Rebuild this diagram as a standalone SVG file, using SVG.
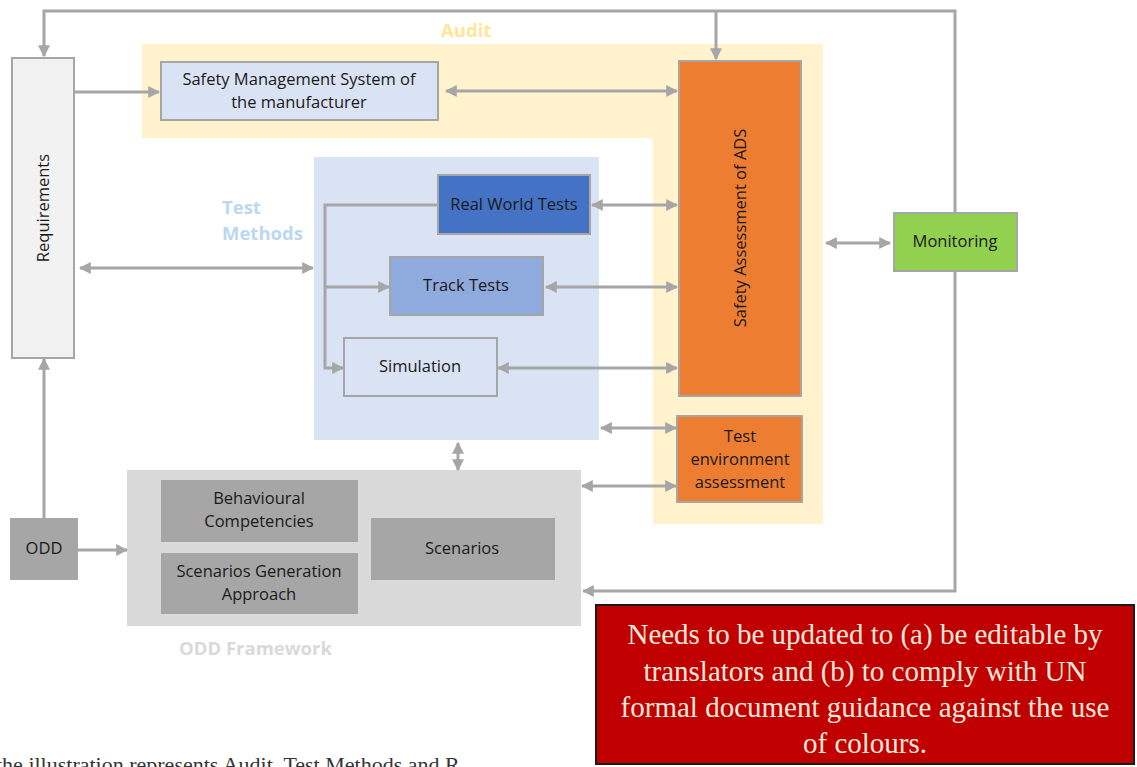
<svg xmlns="http://www.w3.org/2000/svg" width="1137" height="767" viewBox="0 0 1137 767">
  <style>
    .lbl { font-family: "Open Sans", "Liberation Sans", sans-serif; font-size: 16.5px; fill: #1a1a1a; text-anchor: middle; }
    .grp { font-family: "Open Sans", "Liberation Sans", sans-serif; font-size: 18.5px; font-weight: bold; }
    .box { stroke: #a6a6a6; stroke-width: 2; }
    .conn { fill: none; stroke: #a6a6a6; stroke-width: 3; }
    .note { font-family: "Liberation Serif", serif; font-size: 29px; fill: #fde9d9; text-anchor: middle; }
  </style>
  <defs>
    <marker id="arr" viewBox="0 0 10 10" refX="9" refY="5" markerWidth="12" markerHeight="12" markerUnits="userSpaceOnUse" orient="auto-start-reverse">
      <path d="M0,0 L10,5 L0,10 z" fill="#a6a6a6"/>
    </marker>
  </defs>
  <rect width="1137" height="767" fill="#ffffff"/>

  <!-- group backgrounds -->
  <g id="audit-area">
    <path d="M142,44 H823 V524 H653 V138 H142 z" fill="#fff2cc"/>
    <text class="grp" x="441" y="37" fill="#ffe699">Audit</text>
  </g>
  <g id="test-methods-area">
    <rect x="314" y="157" width="285" height="283" fill="#dae3f3"/>
    <text class="grp" x="222" y="214" fill="#bdd7ee">Test</text>
    <text class="grp" x="222" y="240" fill="#bdd7ee">Methods</text>
  </g>
  <g id="odd-framework-area">
    <rect x="127" y="470" width="454" height="156" fill="#d9d9d9"/>
    <text class="grp" x="179" y="655" fill="#d9d9d9">ODD Framework</text>
  </g>

  <!-- connectors -->
  <g id="connectors">
    <path class="conn" d="M955,212 V11 H44 V56" marker-end="url(#arr)"/>
    <path class="conn" d="M716,11 V59" marker-end="url(#arr)"/>
    <path class="conn" d="M955,271 V591 H583" marker-end="url(#arr)"/>
    <path class="conn" d="M75,92 H159" marker-end="url(#arr)"/>
    <path class="conn" d="M446,91 H677" marker-start="url(#arr)" marker-end="url(#arr)"/>
    <path class="conn" d="M80,268 H313" marker-start="url(#arr)" marker-end="url(#arr)"/>
    <path class="conn" d="M437,205 H325 V368 H343" marker-end="url(#arr)"/>
    <path class="conn" d="M325,287 H389" marker-end="url(#arr)"/>
    <path class="conn" d="M592,205 H677" marker-start="url(#arr)" marker-end="url(#arr)"/>
    <path class="conn" d="M546,287 H677" marker-start="url(#arr)" marker-end="url(#arr)"/>
    <path class="conn" d="M498,368 H677" marker-start="url(#arr)" marker-end="url(#arr)"/>
    <path class="conn" d="M601,428 H676" marker-start="url(#arr)" marker-end="url(#arr)"/>
    <path class="conn" d="M582,486 H676" marker-start="url(#arr)" marker-end="url(#arr)"/>
    <path class="conn" d="M826,243 H890" marker-start="url(#arr)" marker-end="url(#arr)"/>
    <path class="conn" d="M458,443 V470" marker-start="url(#arr)" marker-end="url(#arr)"/>
    <path class="conn" d="M44,518 V359" marker-end="url(#arr)"/>
    <path class="conn" d="M78,550 H127" marker-end="url(#arr)"/>
  </g>

  <!-- nodes -->
  <g id="requirements">
    <rect class="box" x="12" y="58" width="62" height="300" fill="#f2f2f2"/>
    <text class="lbl" transform="translate(49,208) rotate(-90)">Requirements</text>
  </g>
  <g id="sms">
    <rect class="box" x="161" y="62" width="277" height="58" fill="#dae3f3"/>
    <text class="lbl" x="299" y="85">Safety Management System of</text>
    <text class="lbl" x="299" y="108">the manufacturer</text>
  </g>
  <g id="safety-assessment">
    <rect class="box" x="679" y="61" width="122" height="335" fill="#ed7d31"/>
    <text class="lbl" transform="translate(746,228) rotate(-90)">Safety Assessment of ADS</text>
  </g>
  <g id="test-environment">
    <rect class="box" x="677" y="416" width="125" height="86" fill="#ed7d31"/>
    <text class="lbl" x="740" y="442">Test</text>
    <text class="lbl" x="740" y="465">environment</text>
    <text class="lbl" x="740" y="488">assessment</text>
  </g>
  <g id="monitoring">
    <rect class="box" x="894" y="213" width="123" height="58" fill="#92d050"/>
    <text class="lbl" x="955" y="247">Monitoring</text>
  </g>
  <g id="real-world-tests">
    <rect class="box" x="438" y="175" width="152" height="59" fill="#4472c4"/>
    <text class="lbl" x="514" y="210">Real World Tests</text>
  </g>
  <g id="track-tests">
    <rect class="box" x="390" y="257" width="153" height="58" fill="#8faadc"/>
    <text class="lbl" x="466" y="291">Track Tests</text>
  </g>
  <g id="simulation">
    <rect class="box" x="344" y="338" width="153" height="58" fill="#dae3f3"/>
    <text class="lbl" x="420" y="372">Simulation</text>
  </g>
  <g id="behavioural-competencies">
    <rect x="161" y="480" width="197" height="62" fill="#a6a6a6"/>
    <text class="lbl" x="259" y="504">Behavioural</text>
    <text class="lbl" x="259" y="527">Competencies</text>
  </g>
  <g id="scenarios-generation">
    <rect x="161" y="553" width="197" height="61" fill="#a6a6a6"/>
    <text class="lbl" x="259" y="577">Scenarios Generation</text>
    <text class="lbl" x="259" y="600">Approach</text>
  </g>
  <g id="scenarios">
    <rect x="371" y="518" width="184" height="62" fill="#a6a6a6"/>
    <text class="lbl" x="462" y="554">Scenarios</text>
  </g>
  <g id="odd">
    <rect x="10" y="518" width="68" height="62" fill="#a6a6a6"/>
    <text class="lbl" x="44" y="554">ODD</text>
  </g>

  <!-- editorial note -->
  <g id="note">
    <rect x="596" y="605" width="538" height="159" fill="#c00000" stroke="#1a1a1a" stroke-width="2"/>
    <text class="note" x="865" y="644">Needs to be updated to (a) be editable by</text>
    <text class="note" x="865" y="681">translators and (b) to comply with UN</text>
    <text class="note" x="865" y="717">formal document guidance against the use</text>
    <text class="note" x="865" y="753">of colours.</text>
  </g>

  <!-- caption running off the lower edge -->
  <text x="-4" y="772" font-family="Liberation Serif, serif" font-size="22" fill="#333333">the illustration represents Audit, Test Methods and R</text>
</svg>
